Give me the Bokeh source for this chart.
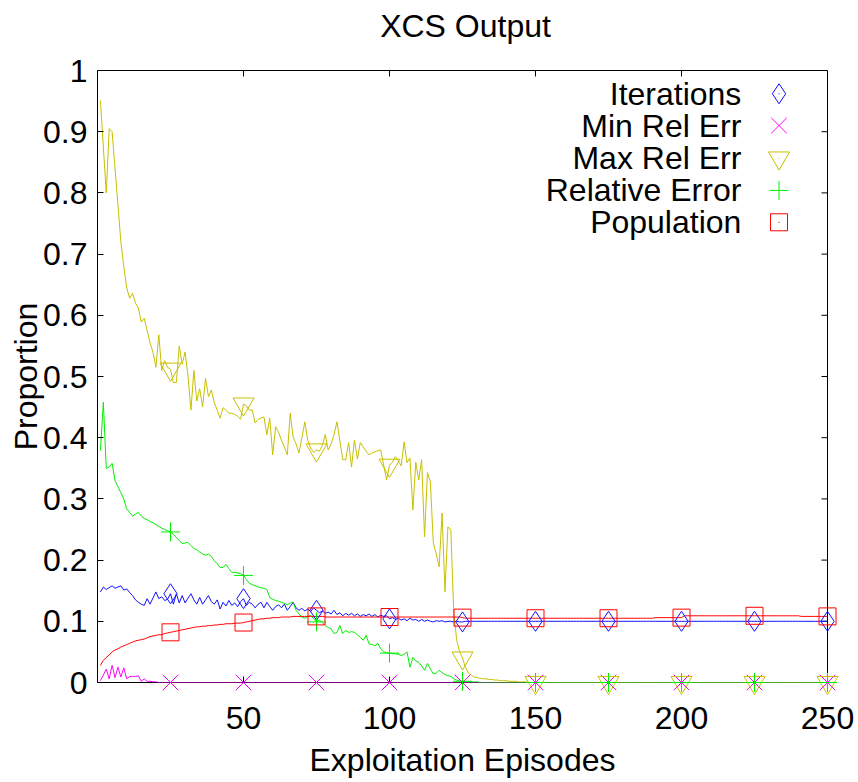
from bokeh.plotting import figure
from bokeh.models import FixedTicker, PrintfTickFormatter
from bokeh.embed import file_html
from bokeh.resources import INLINE
from bokeh.core.properties import value

FONT = "Liberation Sans"

# Exploitation episodes 1..250
episodes = list(range(1, 251))

iterations = [
    .148, .156, .152, .155, .158, .154, .156, .158, .151, .153,
    .147, .142, .135, .131, .128, .126, .137, .128, .138, .148,
    .137, .140, .134, .136, .145, .128, .145, .130, .142, .130,
    .138, .145, .135, .128, .139, .128, .135, .142, .132, .128,
    .135, .120, .131, .125, .134, .126, .130, .124, .132, .137,
    .126, .131, .128, .122, .128, .131, .122, .131, .124, .118,
    .124, .127, .122, .128, .118, .124, .131, .122, .118, .121,
    .117, .120, .116, .122, .118, .114, .117, .113, .115, .112,
    .118, .111, .114, .109, .113, .110, .113, .109, .112, .108,
    .111, .109, .112, .108, .111, .107, .110, .108, .109, .104,
    .106, .103, .105, .102, .104, .101, .105, .102, .103, .100,
    .103, .100, .102, .100, .099, .101, .100, .101, .099, .100,
    .100, .099, .100, .099, .099, .100, .100, .100, .100, .100,
    .100, .100, .100, .100, .100, .100, .100, .100, .100, .100,
    .100, .100, .100, .100, .100, .100, .100, .100, .100, .100,
    .100, .100, .100, .100, .100, .100, .100, .100, .100, .100,
    .100, .100, .100, .100, .100, .100, .100, .100, .100, .100,
    .100, .100, .100, .100, .100, .100, .100, .100, .100, .100,
    .100, .100, .100, .100, .100, .100, .100, .100, .100, .100,
    .100, .100, .100, .100, .100, .100, .100, .100, .100, .100,
    .100, .100, .100, .100, .100, .100, .100, .100, .100, .100,
    .100, .100, .100, .100, .100, .100, .100, .100, .100, .100,
    .100, .100, .100, .100, .100, .100, .100, .100, .100, .100,
    .100, .100, .100, .100, .100, .100, .100, .100, .100, .100,
    .100, .100, .100, .100, .100, .100, .100, .100, .100, .100,
]

min_rel_err = [
    .003, .012, .022, .006, .028, .008, .025, .009, .024, .006,
    .010, .010, .010, .011, .002, .006, .002, .002, .001, .001,
    0, 0, 0, 0, 0, 0, 0, 0, 0, 0,
    0, 0, 0, 0, 0, 0, 0, 0, 0, 0,
    0, 0, 0, 0, 0, 0, 0, 0, 0, 0,
    0, 0, 0, 0, 0, 0, 0, 0, 0, 0,
    0, 0, 0, 0, 0, 0, 0, 0, 0, 0,
    0, 0, 0, 0, 0, 0, 0, 0, 0, 0,
    0, 0, 0, 0, 0, 0, 0, 0, 0, 0,
    0, 0, 0, 0, 0, 0, 0, 0, 0, 0,
    0, 0, 0, 0, 0, 0, 0, 0, 0, 0,
    0, 0, 0, 0, 0, 0, 0, 0, 0, 0,
    0, 0, 0, 0, 0, 0, 0, 0, 0, 0,
    0, 0, 0, 0, 0, 0, 0, 0, 0, 0,
    0, 0, 0, 0, 0, 0, 0, 0, 0, 0,
    0, 0, 0, 0, 0, 0, 0, 0, 0, 0,
    0, 0, 0, 0, 0, 0, 0, 0, 0, 0,
    0, 0, 0, 0, 0, 0, 0, 0, 0, 0,
    0, 0, 0, 0, 0, 0, 0, 0, 0, 0,
    0, 0, 0, 0, 0, 0, 0, 0, 0, 0,
    0, 0, 0, 0, 0, 0, 0, 0, 0, 0,
    0, 0, 0, 0, 0, 0, 0, 0, 0, 0,
    0, 0, 0, 0, 0, 0, 0, 0, 0, 0,
    0, 0, 0, 0, 0, 0, 0, 0, 0, 0,
    0, 0, 0, 0, 0, 0, 0, 0, 0, 0,
]

max_rel_err = [
    .951, .875, .800, .905, .900, .840, .780, .720, .680, .645,
    .628, .636, .620, .612, .589, .595, .575, .555, .540, .515,
    .568, .510, .526, .515, .512, .490, .490, .550, .520, .540,
    .500, .445, .510, .460, .480, .450, .497, .467, .478, .457,
    .445, .432, .449, .445, .440, .440, .438, .435, .430, .455,
    .452, .445, .445, .424, .430, .432, .434, .405, .432, .372,
    .418, .409, .396, .385, .372, .440, .401, .390, .375, .400,
    .426, .396, .383, .376, .380, .378, .387, .405, .380, .390,
    .405, .426, .395, .364, .364, .392, .352, .396, .365, .392,
    .385, .378, .372, .375, .377, .379, .380, .355, .331, .355,
    .360, .369, .362, .354, .393, .359, .367, .282, .360, .331,
    .364, .238, .343, .328, .228, .210, .189, .277, .148, .254,
    .250, .114, .070, .050, .040, .025, .016, .012, .009, .008,
    .007, .006, .006, .005, .005, .004, .004, .003, .003, .003,
    .002, .002, .002, .001, .001, .001, .001, 0, 0, 0,
    0, 0, 0, 0, 0, 0, 0, 0, 0, 0,
    0, 0, 0, 0, 0, 0, 0, 0, 0, 0,
    0, 0, 0, 0, 0, 0, 0, 0, 0, 0,
    0, 0, 0, 0, 0, 0, 0, 0, 0, 0,
    0, 0, 0, 0, 0, 0, 0, 0, 0, 0,
    0, 0, 0, 0, 0, 0, 0, 0, 0, 0,
    0, 0, 0, 0, 0, 0, 0, 0, 0, 0,
    0, 0, 0, 0, 0, 0, 0, 0, 0, 0,
    0, 0, 0, 0, 0, 0, 0, 0, 0, 0,
    0, 0, 0, 0, 0, 0, 0, 0, 0, 0,
]

relative_error = [
    .379, .458, .350, .352, .358, .330, .320, .310, .300, .284,
    .278, .272, .275, .278, .272, .268, .266, .263, .261, .258,
    .255, .252, .250, .248, .246, .242, .237, .232, .227, .228,
    .229, .224, .219, .217, .213, .210, .208, .210, .206, .199,
    .194, .188, .188, .193, .186, .180, .180, .179, .178, .175,
    .168, .162, .160, .158, .156, .155, .154, .152, .139, .136,
    .134, .133, .131, .129, .127, .130, .131, .118, .112, .107,
    .105, .108, .110, .104, .099, .102, .098, .093, .090, .088,
    .080, .082, .093, .080, .085, .082, .083, .082, .078, .074,
    .069, .077, .063, .062, .060, .064, .055, .050, .049, .048,
    .047, .047, .046, .044, .046, .050, .025, .041, .035, .033,
    .027, .020, .031, .022, .014, .015, .020, .016, .013, .011,
    .010, .006, .004, .003, .002, .002, .001, .001, .001, .001,
    0, 0, 0, 0, 0, 0, 0, 0, 0, 0,
    0, 0, 0, 0, 0, 0, 0, 0, 0, 0,
    0, 0, 0, 0, 0, 0, 0, 0, 0, 0,
    0, 0, 0, 0, 0, 0, 0, 0, 0, 0,
    0, 0, 0, 0, 0, 0, 0, 0, 0, 0,
    0, 0, 0, 0, 0, 0, 0, 0, 0, 0,
    0, 0, 0, 0, 0, 0, 0, 0, 0, 0,
    0, 0, 0, 0, 0, 0, 0, 0, 0, 0,
    0, 0, 0, 0, 0, 0, 0, 0, 0, 0,
    0, 0, 0, 0, 0, 0, 0, 0, 0, 0,
    0, 0, 0, 0, 0, 0, 0, 0, 0, 0,
    0, 0, 0, 0, 0, 0, 0, 0, 0, 0,
]

population = [
    .028, .036, .041, .045, .050, .053, .055, .058, .060, .062,
    .064, .066, .068, .069, .070, .071, .073, .075, .076, .077,
    .078, .078, .080, .081, .082, .083, .084, .085, .086, .087,
    .088, .089, .090, .091, .091, .092, .092, .093, .093, .094,
    .094, .095, .095, .096, .096, .096, .097, .097, .097, .098,
    .099, .100, .101, .102, .103, .104, .104, .105, .105, .106,
    .106, .106, .107, .107, .107, .107, .108, .108, .108, .108,
    .108, .108, .108, .108, .108, .108, .108, .107, .107, .107,
    .107, .107, .107, .107, .107, .107, .107, .107, .107, .107,
    .107, .107, .107, .107, .107, .107, .107, .107, .107, .107,
    .107, .107, .107, .107, .107, .107, .107, .107, .107, .107,
    .107, .107, .107, .107, .107, .107, .107, .107, .107, .107,
    .107, .107, .107, .107, .106, .105, .105, .105, .105, .105,
    .105, .105, .105, .105, .105, .105, .105, .105, .105, .105,
    .105, .105, .105, .105, .105, .105, .105, .105, .105, .105,
    .105, .105, .105, .105, .105, .105, .105, .105, .105, .105,
    .105, .105, .105, .105, .105, .105, .105, .105, .105, .105,
    .105, .105, .105, .105, .105, .105, .105, .105, .105, .105,
    .105, .105, .105, .105, .105, .105, .105, .105, .105, .105,
    .106, .106, .106, .106, .106, .106, .106, .106, .106, .106,
    .109, .109, .109, .109, .109, .109, .109, .109, .109, .109,
    .109, .109, .109, .109, .109, .109, .109, .109, .109, .109,
    .109, .109, .109, .109, .109, .109, .109, .109, .109, .109,
    .109, .109, .109, .109, .109, .109, .109, .109, .109, .109,
    .108, .108, .108, .108, .108, .108, .108, .108, .108, .108,
]

series_names = ["Iterations", "Min Rel Err", "Max Rel Err", "Relative Error", "Population"]
series_values = [iterations, min_rel_err, max_rel_err, relative_error, population]
series_colors = ["#1010ff", "#ff00ff", "#c8c000", "#00ee00", "#ff0000"]
series_markers = ["diamond", "x", "inverted_triangle", "cross", "square"]
marker_sizes = [20, 22, 21, 19, 17]

x_ticks = [50, 100, 150, 200, 250]
y_ticks = [0, 0.1, 0.2, 0.3, 0.4, 0.5, 0.6, 0.7, 0.8, 0.9, 1]
x_min, x_max = 0, 250
y_min, y_max = 0, 1

FRAME_W, FRAME_H = 730, 612
TICK_PX = 6

p = figure(
    frame_width=FRAME_W, frame_height=FRAME_H,
    min_border_left=97, min_border_right=31, min_border_top=70, min_border_bottom=100,
    x_range=(x_min, x_max), y_range=(y_min, y_max),
    output_backend="svg", toolbar_location=None,
)
p.background_fill_color = "white"
p.border_fill_color = "white"
p.outline_line_color = "black"
p.outline_line_width = 1
p.grid.visible = False

for ax in (p.xaxis[0], p.yaxis[0]):
    ax.axis_line_color = None
    ax.major_tick_in = TICK_PX
    ax.major_tick_out = 0
    ax.minor_tick_line_color = None
    ax.major_tick_line_color = "black"
    ax.major_label_text_font = FONT
    ax.major_label_text_font_size = "32px"
    ax.major_label_text_color = "black"
    ax.axis_label_text_font = FONT
    ax.axis_label_text_font_style = "normal"
    ax.axis_label_text_font_size = "32px"
    ax.axis_label_text_color = "black"

xa = p.xaxis[0]
xa.ticker = FixedTicker(ticks=x_ticks)
xa.axis_label = "Exploitation Episodes"
xa.major_label_standoff = 24
xa.axis_label_standoff = 10

ya = p.yaxis[0]
ya.ticker = FixedTicker(ticks=y_ticks)
ya.formatter = PrintfTickFormatter(format="%g")
ya.axis_label = "Proportion"
ya.major_label_standoff = 10
ya.axis_label_standoff = -4

# chart title, centred above the frame
px_per_y = (y_max - y_min) / FRAME_H
px_per_x = (x_max - x_min) / FRAME_W
title = p.text(x=[(x_min + x_max) / 2 + 3 * px_per_x], y=[y_max + 44.5 * px_per_y],
               text=["XCS Output"], text_align="center", text_baseline="middle",
               text_font=value(FONT), text_font_size=value("32px"), text_color="black")
title.level = "overlay"

# mirrored inward ticks on the top and right borders
dx = TICK_PX * px_per_x
dy = TICK_PX * px_per_y
p.segment(x0=x_ticks, y0=[y_max] * len(x_ticks), x1=x_ticks, y1=[y_max - dy] * len(x_ticks),
          line_color="black", line_width=1)
p.segment(x0=[x_max] * len(y_ticks), y0=y_ticks, x1=[x_max - dx] * len(y_ticks), y1=y_ticks,
          line_color="black", line_width=1)

# curves, with a point marker every 25 episodes
for vals, color, marker, size in zip(series_values, series_colors, series_markers, marker_sizes):
    p.line(episodes, vals, line_color=color, line_width=1)
    pts = p.scatter(episodes[24::25], vals[24::25], marker=marker, size=size,
                    line_color=color, fill_color=None, line_width=1)
    pts.level = "overlay"

# key in the top right corner: label, then its marker
key_text_x = 220.5
key_mark_x = 233.4
key_rows = [0.962, 0.910, 0.857, 0.804, 0.752]
p.text(x=[key_text_x] * 5, y=key_rows, text=series_names,
       text_align="right", text_baseline="middle",
       text_font=value(FONT), text_font_size=value("32px"), text_color="black")
for row, color, marker, size in zip(key_rows, series_colors, series_markers, marker_sizes):
    p.scatter([key_mark_x], [row], marker=marker, size=size,
              line_color=color, fill_color=None, line_width=1)
    if marker != "x" and marker != "cross":
        p.scatter([key_mark_x], [row], marker="dot", size=5, line_color=color, fill_color=color)

open("out.html", "w").write(file_html(p, INLINE))
